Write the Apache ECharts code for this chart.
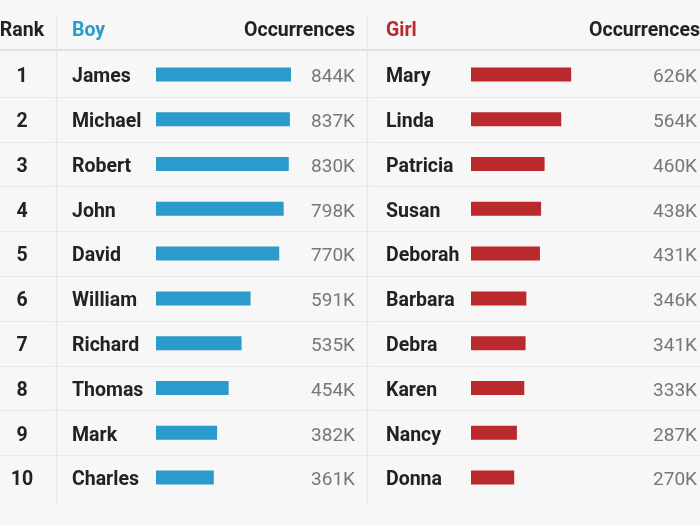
<!DOCTYPE html>
<html><head><meta charset="utf-8">
<script src="https://cdn.jsdelivr.net/npm/echarts@6/dist/echarts.min.js"></script>
<style>html,body{margin:0;padding:0;background:#f7f7f7}#c{width:700px;height:525px}</style>
</head><body><div id="c"></div>
<script>
const ranks = ['1','2','3','4','5','6','7','8','9','10'];
const boys = ['James','Michael','Robert','John','David','William','Richard','Thomas','Mark','Charles'];
const boyCounts = [844,837,830,798,770,591,535,454,382,361];
const girls = ['Mary','Linda','Patricia','Susan','Deborah','Barbara','Debra','Karen','Nancy','Donna'];
const girlCounts = [626,564,460,438,431,346,341,333,287,270];
const headers = ['Rank','Boy','Occurrences','Girl','Occurrences'];

const FONT = 'Roboto';
const TOP = 52, ROWH = 44.8, N = boys.length, TXT_SHIFT = 3;
const BLUE = '#2a9bca', RED = '#ba292b', DARK = '#222', GREY = '#777';
const fmt = v => v + 'K';
const BOLD = 19.5, REG = 19;

const chart = echarts.init(document.getElementById('c'));
const lab = (extra) => Object.assign({fontFamily: FONT, fontSize: REG}, extra);
const catAxis = (grid, data, position, label) => ({
  type: 'category', gridIndex: grid, data: data, inverse: true, position: position,
  axisLine: {show: false}, axisTick: {show: false}, splitLine: {show: false},
  axisLabel: lab(label)
});

const graphics = [];
graphics.push({type: 'line', shape: {x1: 0, y1: TOP - 2, x2: 700, y2: TOP - 2}, style: {stroke: '#d9d9d9', lineWidth: 1.5}, silent: true});
for (let i = 1; i < N; i++) {
  const y = Math.round(TOP + i * ROWH) + 0.5;
  graphics.push({type: 'line', shape: {x1: 0, y1: y, x2: 700, y2: y}, style: {stroke: '#e8e8e8', lineWidth: 1}, silent: true});
}
[56.5, 367.5].forEach(x => graphics.push({type: 'line', shape: {x1: x, y1: 17, x2: x, y2: 503}, style: {stroke: '#e6e6e6', lineWidth: 1.5}, silent: true}));
const hY = 31;
const hdr = (text, x, align, fill) => ({type: 'text', x: x, y: hY, style: {text: text, font: 'bold ' + BOLD + 'px ' + FONT, fill: fill, textAlign: align, textVerticalAlign: 'middle'}});
graphics.push(hdr(headers[0], 22, 'center', DARK));
graphics.push(hdr(headers[1], 72, 'left', BLUE));
graphics.push(hdr(headers[2], 355, 'right', DARK));
graphics.push(hdr(headers[3], 386, 'left', RED));
graphics.push(hdr(headers[4], 700, 'right', DARK));

chart.setOption({
  backgroundColor: '#f7f7f7',
  animation: false,
  grid: [
    {left: 156, width: 160, top: TOP, height: ROWH * N},
    {left: 471, width: 160, top: TOP, height: ROWH * N},
    {left: 156, width: 160, top: TOP + TXT_SHIFT, height: ROWH * N},
    {left: 471, width: 160, top: TOP + TXT_SHIFT, height: ROWH * N}
  ],
  xAxis: [
    {type: 'value', gridIndex: 0, min: 0, max: 1000, show: false},
    {type: 'value', gridIndex: 1, min: 0, max: 1000, show: false},
    {type: 'value', gridIndex: 2, min: 0, max: 1000, show: false},
    {type: 'value', gridIndex: 3, min: 0, max: 1000, show: false}
  ],
  yAxis: [
    catAxis(0, boys, 'left', {show: false}),
    catAxis(1, girls, 'left', {show: false}),
    catAxis(2, boys, 'left', {margin: 84, align: 'left', fontWeight: 'bold', fontSize: BOLD, color: DARK}),
    catAxis(2, boyCounts.map(fmt), 'right', {margin: 39, align: 'right', color: GREY}),
    catAxis(2, ranks, 'left', {margin: 134, align: 'center', fontWeight: 'bold', fontSize: BOLD, color: DARK}),
    catAxis(3, girls, 'left', {margin: 85, align: 'left', fontWeight: 'bold', fontSize: BOLD, color: DARK}),
    catAxis(3, girlCounts.map(fmt), 'right', {margin: 69, align: 'right', color: GREY})
  ],
  series: [
    {type: 'bar', xAxisIndex: 0, yAxisIndex: 0, data: boyCounts, barWidth: 14, itemStyle: {color: BLUE}, silent: true},
    {type: 'bar', xAxisIndex: 1, yAxisIndex: 1, data: girlCounts, barWidth: 14, itemStyle: {color: RED}, silent: true}
  ],
  graphic: graphics
});
</script></body></html>
